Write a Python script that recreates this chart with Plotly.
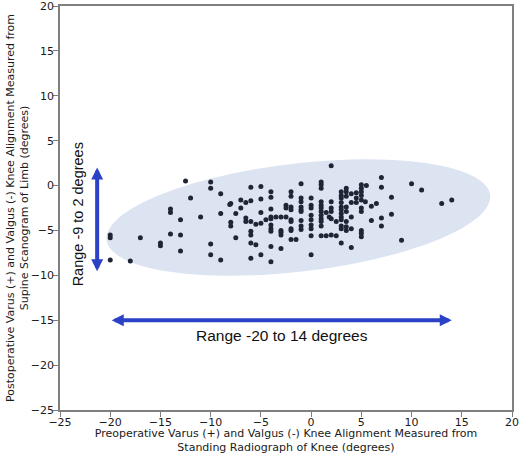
import numpy as np
import plotly.graph_objects as go

# Preoperative (x) vs postoperative (y) knee alignment, degrees
pre_deg = [
    -20, -20, -20, -18, -17, -15, -15, -14, -14, -13, -14, -13, -13, -12.5,
    -12, -10, -10, -9, -11, -9, -10, -10, -9, -8, -8.1, -7.5, -8, -8, -7.5,
    -7, -7, -6.5, -6, -6, -6.5, -6.5, -6, -6, -6, -5.5, -5, -5, -5, -5, -4.5,
    -6, -5.5, -6, -5, -4, -4, -4, -4, -4, -4, -4, -4, -4, -4,
    -3.5, -3, -3, -3, -3, -3, -2.5, -2.5, -2.5, -2, -2, -2, -2, -2, -2, -2, -2,
    -2, -1.5, -1, -1, -1, -1, -1, -1, -1, -1, -1, 0, 0, 0, 0, 0, 0, 0, 0, 0,
    1, 1, 1, 1, 1, 1, 1, 1, 1, 1, 1, 1, 1.5, 1.5, 2, 2, 2, 2, 1.8, 2, 2, 2.5,
    2.5, 3, 3, 3, 3, 3, 3, 3, 3, 3, 3, 3, 3, 3.5, 3.5, 3.5, 3.5, 3.5, 3.5,
    3.5, 3.5, 4, 4, 4, 4, 4, 4.5, 4.5, 4.5, 5, 5, 5, 5, 5, 5, 5, 5, 5, 5, 5.4,
    5.5, 7, 7, 8, 6.5, 6, 8, 7, 7, 6, 9, 10, 11, 13, 14,
]
post_deg = [
    -5.5, -5.8, -8.3, -8.4, -5.8, -6.4, -6.7, -2.6, -3.0, -3.8, -5.4, -5.5, -7.3, 0.5,
    -1.4, 0.4, -0.3, -0.9, -3.5, -3.1, -6.5, -7.7, -8.3, -2.0, -2.1, -3.1, -4.1, -4.5, -5.8,
    -1.6, -2.5, -1.9, -0.2, -1.7, -3.6, -4.0, -4.0, -5.1, -5.5, -4.3, -0.1, -1.5, -3.0, -4.2, -3.8,
    -6.4, -6.6, -8.1, -7.7, -0.7, -1.3, -2.6, -3.5, -3.7, -4.4, -4.8, -5.1, -6.8, -8.5,
    -3.5, -3.5, -7.0, -5.0, -5.2, -5.5, -2.2, -2.5, -3.5, -0.7, -1.2, -2.4, -2.7, -3.8, -4.0, -4.8, -5.0,
    -6.0, -6.0, 0.2, -1.4, -1.8, -2.4, -2.7, -2.9, -3.9, -4.5, -4.9, -1.4, -2.2, -2.5, -3.3, -3.8, -4.4, -4.8, -5.6, -7.7,
    0.4, 0.1, -0.3, -1.8, -2.2, -2.5, -2.9, -3.3, -3.7, -4.0, -4.5, -5.6, -5.6, -3.0, 2.2, -1.8, -2.5, -2.9, -3.5, -3.7, -5.5, -5.6,
    -4.0, -0.7, -1.1, -1.4, -1.9, -2.4, -2.7, -3.1, -3.5, -3.8, -4.5, -4.8, -6.4, -0.3, -0.7, -1.2, -2.4, -2.9, -4.0,
    -4.6, -5.0, -0.9, -1.9, -3.5, -4.8, -6.9, -0.8, -1.4, -1.9, 0.1, -0.3, -0.7, -1.1, -1.6, -2.5, -2.9, -5.0, -5.3, -5.7, -1.8,
    0.0, 0.9, -0.2, -1.3, -2.0, -2.3, -3.2, -3.6, -4.5, -3.9, -6.1, 0.2, -0.5, -2.0, -1.6,
]

x_ticks = [-25, -20, -15, -10, -5, 0, 5, 10, 15, 20]
y_ticks = [-25, -20, -15, -10, -5, 0, 5, 10, 15, 20]

x_range_label = "Range -20 to 14 degrees"
y_range_label = "Range -9 to 2 degrees"
x_range_ends = [-20, 14]
y_range_ends = [-9.7, 2.0]

# ellipse (visual region) geometry in data units
cx, cy = -1.27, -3.56
A = (19.09, 2.51)
B = (0.62, -5.98)
t = np.linspace(0, 2 * np.pi, 120)
ex = cx + A[0] * np.cos(t) + B[0] * np.sin(t)
ey = cy + A[1] * np.cos(t) + B[1] * np.sin(t)
path = "M " + " L ".join(f"{a:.3f},{b:.3f}" for a, b in zip(ex, ey)) + " Z"

ARROW = "#2b42c6"
AXFONT = dict(family="DejaVu Sans", size=11, color="#1a1a1a")

fig = go.Figure()
fig.add_trace(go.Scatter(
    x=pre_deg, y=post_deg, mode="markers",
    marker=dict(size=5, color="#1f2535"),
    hoverinfo="x+y", showlegend=False,
))

fig.add_shape(type="path", path=path, xref="x", yref="y",
              fillcolor="#dce4f2", line=dict(width=0), layer="below")

# horizontal double arrow
fig.add_annotation(x=x_range_ends[1], y=-15, ax=x_range_ends[0], ay=-15,
                   xref="x", yref="y", axref="x", ayref="y", text="",
                   showarrow=True, arrowside="end+start", arrowhead=2, startarrowhead=2,
                   arrowsize=0.6, startarrowsize=0.6, arrowwidth=4, arrowcolor=ARROW,
                   standoff=0, startstandoff=0)
# vertical double arrow
fig.add_annotation(x=-21.3, y=y_range_ends[1], ax=-21.3, ay=y_range_ends[0],
                   xref="x", yref="y", axref="x", ayref="y", text="",
                   showarrow=True, arrowside="end+start", arrowhead=2, startarrowhead=2,
                   arrowsize=0.6, startarrowsize=0.6, arrowwidth=4, arrowcolor=ARROW,
                   standoff=0, startstandoff=0)

fig.add_annotation(x=-2.9, y=-16.65, xref="x", yref="y", text=x_range_label,
                   showarrow=False, font=dict(family="Liberation Sans", size=15.5, color="#111"))
fig.add_annotation(x=-23.2, y=-3.2, xref="x", yref="y", text=y_range_label,
                   textangle=-90, showarrow=False,
                   font=dict(family="Liberation Sans", size=14.5, color="#111"))

axis_common = dict(
    showgrid=False, zeroline=False, showline=True, mirror=True,
    linecolor="#7f7f7f", linewidth=1.5, ticks="outside", ticklen=5,
    tickcolor="#7f7f7f", tickwidth=1, tickfont=AXFONT,
    ticklabeloverflow="allow",
)
fig.update_xaxes(range=[-25, 20], tickvals=x_ticks, ticklabelstandoff=-4, **axis_common,
                 title=dict(text="Preoperative Varus (+) and Valgus (-) Knee Alignment Measured from<br>Standing Radiograph of Knee (degrees)",
                            font=AXFONT, standoff=7))
fig.update_yaxes(range=[-25, 20], tickvals=y_ticks, ticklabelstandoff=-3, **axis_common,
                 title=dict(text="Postoperative Varus (+) and Valgus (-) Knee Alignment Measured from<br>Supine Scanogram of Limb (degrees)",
                            font=AXFONT, standoff=0))

fig.update_layout(
    width=520, height=454,
    margin=dict(l=60, r=8, t=6, b=44, autoexpand=False),
    plot_bgcolor="white", paper_bgcolor="white",
    showlegend=False,
)
fig.write_html("out.html", config={"displayModeBar": False},
               post_script="document.body.style.margin='0px';")
